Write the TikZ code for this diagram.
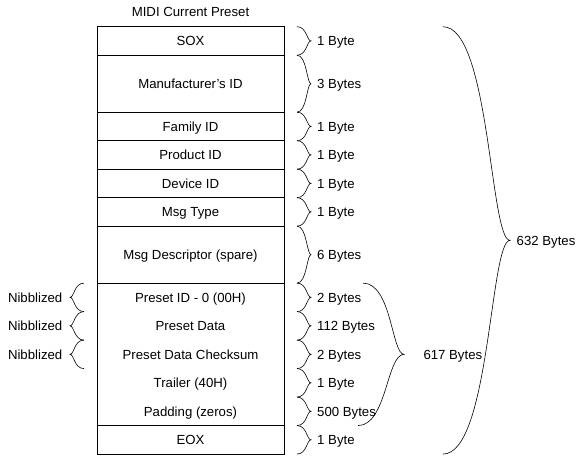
\documentclass[tikz,border=0pt]{standalone}
\usepackage{fontspec}
\setmainfont{Liberation Sans}
\usetikzlibrary{calc}
\newcommand\brc[3]{\draw[bracel] let \p1=(#1), \p2=(#2) in
  (\p1) .. controls ({\x1+0.7*(#3)},\y1) and ({\x1+0.7*(#3)},{(\y1+\y2)/2}) .. ({\x1+(#3)},{(\y1+\y2)/2})
  .. controls ({\x2+0.7*(#3)},{(\y1+\y2)/2}) and ({\x2+0.7*(#3)},\y2) .. (\p2);}
\begin{document}
\begin{tikzpicture}[x=1pt,y=-1pt,
  font=\fontsize{13.2}{15}\selectfont,
  every node/.style={text height=9.4pt, text depth=0pt},
  row/.style={draw, line width=0.8pt, minimum width=187pt, minimum height=#1, inner sep=0pt, outer sep=0pt},
  cell/.style={minimum width=187pt, minimum height=28.49pt, inner sep=0pt, outer sep=0pt},
  lbl/.style={inner sep=0pt},
  bracel/.style={draw=black, line width=0.6pt}]
\useasboundingbox (0,0) rectangle (577,456);
\node[lbl] (title) at (190.5,12) {MIDI Current Preset};
\node[row=28.49pt] (sox) at (190.5,40.95) {SOX};
\node[row=56.98pt] (man) at (190.5,83.68) {Manufacturer’s ID};
\node[row=28.49pt] (fam) at (190.5,126.42) {Family ID};
\node[row=28.49pt] (prod) at (190.5,154.91) {Product ID};
\node[row=28.49pt] (dev) at (190.5,183.40) {Device ID};
\node[row=28.49pt] (typ) at (190.5,211.89) {Msg Type};
\node[row=56.98pt] (desc) at (190.5,254.62) {Msg Descriptor (spare)};
\node[row=142.45pt] (grp) at (190.5,354.34) {};
\node[cell] (pid) at (190.5,297.36) {Preset ID - 0 (00H)};
\node[cell] (pdat) at (190.5,325.85) {Preset Data};
\node[cell] (chk) at (190.5,354.34) {Preset Data Checksum};
\node[cell] (trl) at (190.5,382.83) {Trailer (40H)};
\node[cell] (pad) at (190.5,411.32) {Padding (zeros)};
\node[row=28.49pt] (eox) at (190.5,439.81) {EOX};
\foreach \r/\t in {sox/1 Byte, man/3 Bytes, fam/1 Byte, prod/1 Byte, dev/1 Byte, typ/1 Byte, desc/6 Bytes, pid/2 Bytes, pdat/112 Bytes, chk/2 Bytes, trl/1 Byte, pad/500 Bytes, eox/1 Byte}{
  \brc{[xshift=13pt]\r.north east}{[xshift=13pt]\r.south east}{14}
  \node[lbl, anchor=west] (b-\r) at ([xshift=33pt]\r.east) {\t};
}
\foreach \r in {pid, pdat, chk}{
  \brc{[xshift=-13pt]\r.north west}{[xshift=-13pt]\r.south west}{-14}
  \node[lbl, anchor=east] (n-\r) at ([xshift=-34.5pt]\r.west) {Nibblized};
}
\brc{[xshift=79pt]pid.north east}{[xshift=74pt]pad.south east}{41}
\node[lbl, anchor=west] (l617) at (423.3,354.34) {617 Bytes};
\brc{[xshift=159pt]sox.north east}{[xshift=159pt]eox.south east}{67}
\node[lbl, anchor=west] (l632) at (516.5,240.35) {632 Bytes};
\end{tikzpicture}
\end{document}
